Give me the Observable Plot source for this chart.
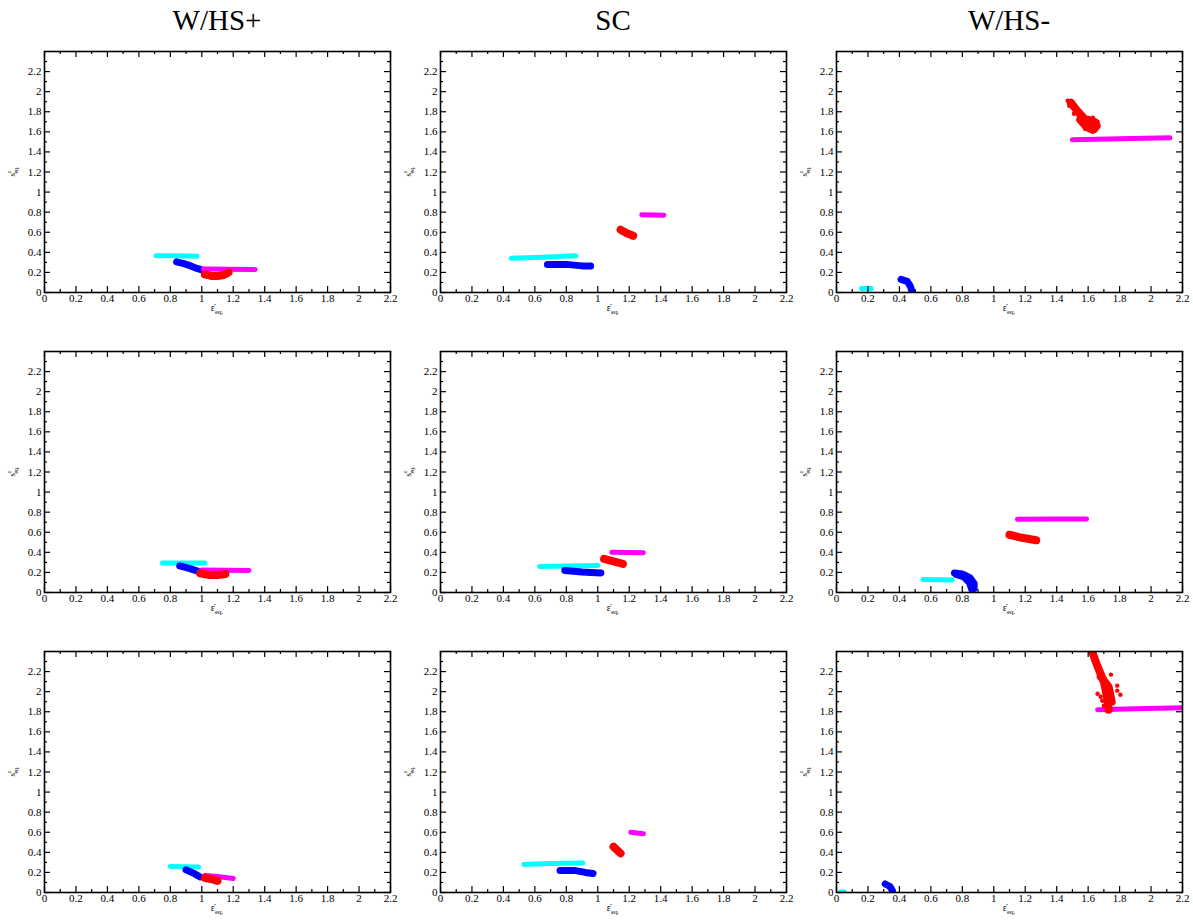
<!DOCTYPE html>
<html><head><meta charset="utf-8">
<script src="https://cdn.jsdelivr.net/npm/d3@7"></script>
<script src="https://cdn.jsdelivr.net/npm/@observablehq/plot@0.6"></script>
<style>
body{margin:0;background:#fff;}
#root{position:relative;width:1193px;height:922px;font-family:"Liberation Serif","DejaVu Serif",serif;color:#000;}
.title{position:absolute;top:6px;font-size:29px;line-height:29px;transform:translateX(-50%);white-space:nowrap;}
.panel{position:absolute;}
#root svg, #root svg text{font-family:"Liberation Serif","DejaVu Serif",serif !important;}
</style></head><body><div id="root"></div>
<script>
const columnTitles = ["W/HS+", "SC", "W/HS-"];
const majorTicks = [0, 0.2, 0.4, 0.6, 0.8, 1, 1.2, 1.4, 1.6, 1.8, 2, 2.2];
const xMinorTicks = [0.1, 0.3, 0.5, 0.7, 0.9, 1.1, 1.3, 1.5, 1.7, 1.9, 2.1];
const yMinorTicks = [0.1, 0.3, 0.5, 0.7, 0.9, 1.1, 1.3, 1.5, 1.7, 1.9, 2.1, 2.3];

// [series, x, y]
const whsPlus1 = [
  ["cyan",0.71,0.365],["cyan",0.84,0.365],["cyan",0.97,0.36],
  ["blue",0.84,0.305],["blue",0.88,0.29],["blue",0.93,0.265],["blue",0.97,0.24],["blue",1.0,0.225],
  ["magenta",1.01,0.235],["magenta",1.17,0.232],["magenta",1.34,0.23],
  ["red",1.02,0.18],["red",1.06,0.165],["red",1.1,0.165],["red",1.14,0.175],["red",1.17,0.2]
];
const sc1 = [
  ["cyan",0.45,0.34],["cyan",0.65,0.35],["cyan",0.86,0.365],
  ["blue",0.68,0.28],["blue",0.8,0.28],["blue",0.9,0.265],["blue",0.955,0.265],
  ["red",1.145,0.625],["red",1.185,0.59],["red",1.225,0.565],
  ["magenta",1.28,0.775],["magenta",1.42,0.77]
];
const whsMinus1 = [
  ["cyan",0.16,0.04],["cyan",0.22,0.04],
  ["blue",0.41,0.13],["blue",0.45,0.11],["blue",0.47,0.06],["blue",0.48,0.01],
  ["magenta",1.5,1.52],["magenta",1.8,1.53],["magenta",2.12,1.54],
  ["red",1.49,1.89],["red",1.53,1.81],["red",1.57,1.74],["red",1.61,1.67],["red",1.64,1.63],
  ["red2",1.55,1.72],["red2",1.59,1.65],["red2",1.63,1.62],["red2",1.655,1.66],["red2",1.64,1.7],["red2",1.6,1.72]
];
const whsMinus1Scatter = [
  [1.47,1.91],[1.5,1.9],[1.48,1.86],[1.52,1.85],[1.51,1.78],[1.54,1.76],[1.56,1.69],[1.58,1.63],[1.66,1.7],[1.63,1.74]
];
const whsPlus2 = [
  ["cyan",0.75,0.295],["cyan",1.02,0.295],
  ["blue",0.86,0.265],["blue",0.92,0.24],["blue",0.97,0.215],["blue",1.01,0.2],
  ["magenta",1.0,0.225],["magenta",1.15,0.222],["magenta",1.3,0.22],
  ["red",0.99,0.19],["red",1.05,0.175],["red",1.1,0.175],["red",1.15,0.185]
];
const sc2 = [
  ["cyan",0.63,0.26],["cyan",0.8,0.265],["cyan",1.0,0.27],
  ["blue",0.79,0.22],["blue",0.9,0.205],["blue",1.02,0.195],
  ["red",1.04,0.335],["red",1.1,0.31],["red",1.16,0.285],
  ["magenta",1.09,0.4],["magenta",1.29,0.395]
];
const whsMinus2 = [
  ["cyan",0.55,0.13],["cyan",0.735,0.125],
  ["blue",0.75,0.195],["blue",0.8,0.185],["blue",0.85,0.145],["blue",0.875,0.09],["blue",0.875,0.04],
  ["blue2",0.76,0.18],["blue2",0.81,0.155],["blue2",0.845,0.1],["blue2",0.86,0.03],
  ["red",1.1,0.575],["red",1.18,0.545],["red",1.27,0.52],
  ["magenta",1.15,0.73],["magenta",1.37,0.732],["magenta",1.59,0.733]
];
const whsPlus3 = [
  ["cyan",0.8,0.26],["cyan",0.98,0.255],
  ["blue",0.9,0.225],["blue",0.95,0.19],["blue",0.99,0.155],
  ["magenta",1.02,0.17],["magenta",1.1,0.16],["magenta",1.2,0.14],
  ["red",1.02,0.145],["red",1.06,0.135],["red",1.1,0.115]
];
const sc3 = [
  ["cyan",0.53,0.28],["cyan",0.7,0.29],["cyan",0.905,0.295],
  ["blue",0.76,0.22],["blue",0.85,0.22],["blue",0.92,0.2],["blue",0.97,0.19],
  ["red",1.1,0.455],["red",1.145,0.39],
  ["magenta",1.21,0.6],["magenta",1.29,0.585]
];
const whsMinus3 = [
  ["cyan",0.025,0.005],["cyan",0.05,0.005],
  ["blue",0.31,0.085],["blue",0.34,0.06],["blue",0.355,0.02],
  ["magenta",1.66,1.82],["magenta",1.9,1.83],["magenta",2.22,1.84],
  ["red",1.62,2.42],["red",1.66,2.25],["red",1.7,2.1],["red",1.72,1.95],["red",1.73,1.82],
  ["red2",1.68,2.15],["red2",1.73,2.05],["red2",1.75,1.9]
];
const whsMinus3Scatter = [
  [1.66,1.98],[1.69,1.91],[1.805,1.97],[1.785,2.06],[1.745,2.17],[1.785,2.01],[1.68,1.95],[1.7,1.86]
];

const grid = [
  [[whsPlus1, []], [sc1, []], [whsMinus1, whsMinus1Scatter]],
  [[whsPlus2, []], [sc2, []], [whsMinus2, []]],
  [[whsPlus3, []], [sc3, []], [whsMinus3, whsMinus3Scatter]]
];

const root = document.getElementById("root");
const W = 396, H = 280, mL = 44, mR = 6, mT = 11, mB = 28;
const fw = W - mL - mR, fh = H - mT - mB;
const widths = {cyan: 5, blue: 7, magenta: 5, red: 8};
const serif = '"Liberation Serif", "DejaVu Serif", serif';

columnTitles.forEach((t, c) => {
  const d = document.createElement("div");
  d.className = "title";
  d.style.left = (c * W + mL + fw / 2) + "px";
  d.textContent = t;
  root.appendChild(d);
});

function makePanel(data, scatter) {
  const marks = [];
  for (const s of ["cyan", "blue", "magenta", "red"]) {
    marks.push(Plot.line(data.filter(d => d[0].startsWith(s)), {
      x: d => d[1], y: d => d[2], z: d => d[0], stroke: s,
      strokeWidth: widths[s], strokeLinecap: "round", strokeLinejoin: "round", clip: true
    }));
  }
  if (scatter.length) marks.push(Plot.dot(scatter, {x: d => d[0], y: d => d[1], r: 2.2, fill: "red", stroke: "none", clip: true}));
  marks.push(
    Plot.frame({stroke: "black", strokeWidth: 1.6}),
    Plot.tickX(majorTicks, {x: d => d, insetTop: fh - 6, stroke: "black", strokeWidth: 1.2}),
    Plot.tickX(majorTicks, {x: d => d, insetBottom: fh - 6, stroke: "black", strokeWidth: 1.2}),
    Plot.tickX(xMinorTicks, {x: d => d, insetTop: fh - 3, stroke: "black", strokeWidth: 1.2}),
    Plot.tickX(xMinorTicks, {x: d => d, insetBottom: fh - 3, stroke: "black", strokeWidth: 1.2}),
    Plot.tickY(majorTicks, {y: d => d, insetRight: fw - 6, stroke: "black", strokeWidth: 1.2}),
    Plot.tickY(majorTicks, {y: d => d, insetLeft: fw - 6, stroke: "black", strokeWidth: 1.2}),
    Plot.tickY(yMinorTicks, {y: d => d, insetRight: fw - 3, stroke: "black", strokeWidth: 1.2}),
    Plot.tickY(yMinorTicks, {y: d => d, insetLeft: fw - 3, stroke: "black", strokeWidth: 1.2}),
    Plot.axisX({ticks: majorTicks, tickSize: 0, tickPadding: 2, tickFormat: d => String(d), label: null, fontFamily: serif}),
    Plot.axisY({ticks: majorTicks, tickSize: 0, tickPadding: 3, tickFormat: d => String(d), label: null, fontFamily: serif})
  );
  const svg = Plot.plot({
    width: W, height: H, marginLeft: mL, marginRight: mR, marginTop: mT, marginBottom: mB,
    x: {domain: [0, 2.2]}, y: {domain: [0, 2.4]},
    style: {fontFamily: serif, fontSize: "11px", color: "black", background: "transparent", overflow: "visible"},
    marks
  });
  const s = d3.select(svg);
  s.selectAll("text").attr("font-family", serif).style("font-family", serif);
  const xl = s.append("text").attr("x", mL + fw / 2).attr("y", mT + fh + 19)
    .attr("text-anchor", "middle").attr("font-size", 10).attr("fill", "black").style("font-family", serif);
  xl.append("tspan").text("\u03B5\u0307");
  xl.append("tspan").attr("dy", 3).attr("font-size", 7).text("eq.");
  const yl = s.append("text").attr("transform", `translate(15,${mT + fh / 2}) rotate(-90)`)
    .attr("text-anchor", "middle").attr("font-size", 9).attr("fill", "black").style("font-family", serif);
  yl.append("tspan").text("s");
  yl.append("tspan").attr("dy", -4).attr("font-size", 6).text("\u03B5");
  yl.append("tspan").attr("dx", -3).attr("dy", 7).attr("font-size", 6).text("eq.");
  return svg;
}

grid.forEach((row, r) => row.forEach(([data, scatter], c) => {
  const svg = makePanel(data, scatter);
  const wrap = document.createElement("div");
  wrap.className = "panel";
  wrap.style.left = (c * W) + "px";
  wrap.style.top = (40 + r * 300) + "px";
  wrap.appendChild(svg);
  root.appendChild(wrap);
}));
</script>
</body></html>
